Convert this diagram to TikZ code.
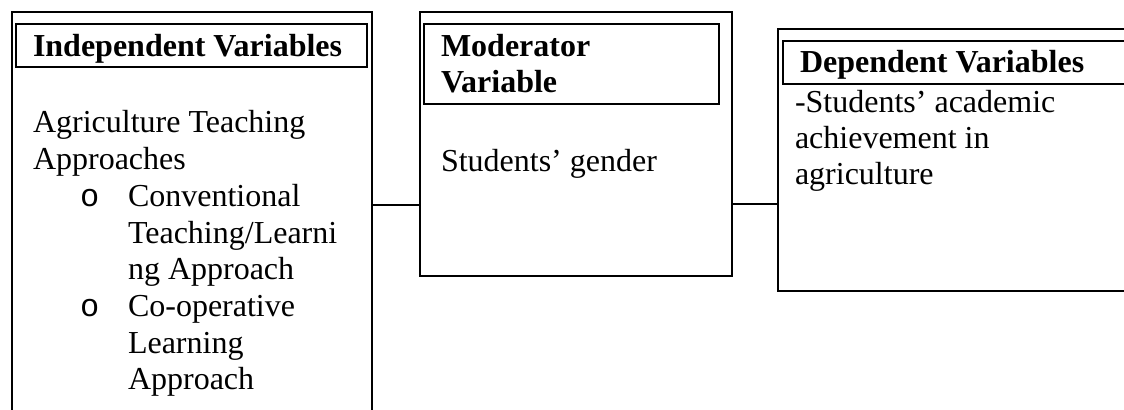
\documentclass[tikz,border=0pt]{standalone}
\usepackage{fontspec}
\setmainfont{Liberation Serif}
\newfontfamily\bulletfont{Liberation Mono}
\begin{document}
\begin{tikzpicture}[x=0.5pt,y=-0.5pt,
  box/.style={draw=black, line width=1pt, inner sep=0pt, outer sep=0pt, anchor=north west, rectangle},
  txt/.style={inner sep=0pt, outer sep=0pt, anchor=base west, align=left, font=\fontsize{16}{18.35}\selectfont},
  btxt/.style={txt, font=\fontsize{16}{18}\selectfont\bfseries},
  bul/.style={txt, font=\fontsize{16}{18}\bulletfont},
  conn/.style={draw=black, line width=1pt}]
\useasboundingbox (0,0) rectangle (1124,410);
\clip (0,0) rectangle (1124,410);
% outer boxes
\node[box, minimum width=180pt, minimum height=204pt] (L) at (12,12) {};
\node[box, minimum width=156pt, minimum height=132pt] (M) at (420,12) {};
\node[box, minimum width=176pt, minimum height=131pt] (R) at (778,29) {};
% title boxes
\node[box, minimum width=175.5pt, minimum height=21.5pt] (Lt) at (16,24) {};
\node[box, minimum width=147.5pt, minimum height=40pt] (Mt) at (424,24) {};
\node[box, minimum width=173.5pt, minimum height=21.5pt] (Rt) at (783,41) {};
% titles (anchor base = baseline of last line)
\node[btxt] (Lh) at (33,57) {Independent Variables};
\node[btxt] (Mh) at (441,93) {Moderator\\Variable};
\node[btxt] (Rh) at (800,73) {Dependent Variables};
% left body
\node[txt] (Lb) at (33,169.7) {Agriculture Teaching\\Approaches};
\node[bul] (b1) at (80,206.4) {o};
\node[txt] (i1) at (128,279.8) {Conventional\\Teaching/Learni\\ng Approach};
\node[bul] (b2) at (80,316.5) {o};
\node[txt] (i2) at (128,389.9) {Co-operative\\Learning\\Approach};
% middle body
\node[txt] (Mb) at (441,172) {Students’ gender};
% right body
\node[txt, font=\fontsize{16}{18}\selectfont] (Rb) at (795,185) {-Students’ academic\\achievement in\\agriculture};
% connectors
\coordinate (c1) at (0,205);
\coordinate (c2) at (0,204);
\draw[conn] (L.east |- c1) -- (M.west |- c1);
\draw[conn] (M.east |- c2) -- (R.west |- c2);
\end{tikzpicture}
\end{document}
